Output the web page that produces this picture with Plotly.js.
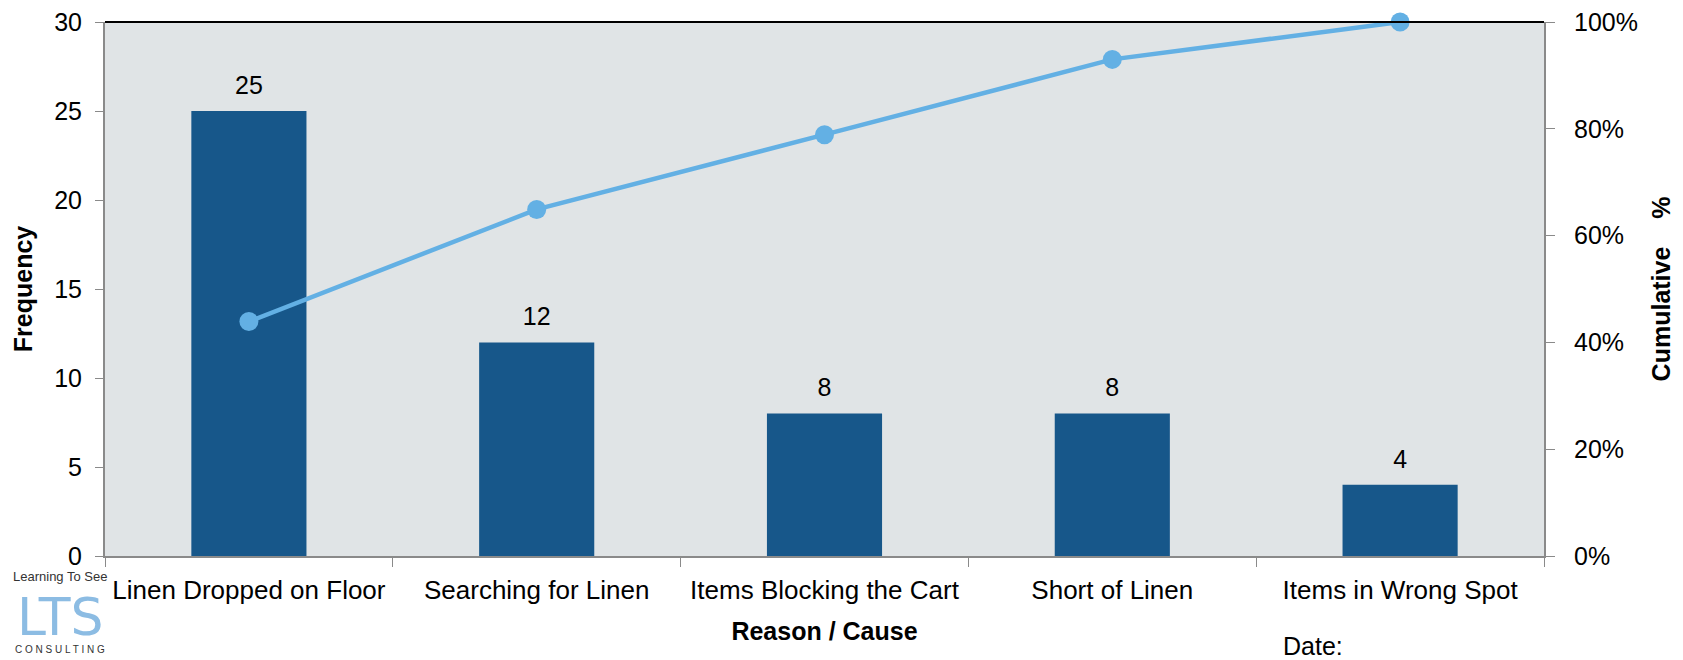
<!DOCTYPE html>
<html><head><meta charset="utf-8">
<script src="https://cdn.plot.ly/plotly-3.0.1.min.js"></script>
<style>html,body{margin:0;padding:0;background:#fff}#chart{width:1683px;height:660px}</style>
</head><body><div id="chart"></div>
<script>
const categories = ["Linen Dropped on Floor", "Searching for Linen", "Items Blocking the Cart", "Short of Linen", "Items in Wrong Spot"];
const frequency = [25, 12, 8, 8, 4];
const cumulativePct = [0.439, 0.649, 0.789, 0.930, 1.0];
const leftTicks = [0, 5, 10, 15, 20, 25, 30];
const rightTicks = [0, 0.2, 0.4, 0.6, 0.8, 1.0];

const font = "Liberation Sans, Arial, sans-serif";
const traces = [
  {type: "bar", x: categories, y: frequency, marker: {color: "#17578a"}, hoverinfo: "skip"},
  {type: "scatter", mode: "markers+text", x: categories, y: frequency,
   marker: {size: 16, color: "rgba(0,0,0,0)"}, text: frequency.map(String), textposition: "top center",
   textfont: {size: 25, color: "#000", family: font}, cliponaxis: false, hoverinfo: "skip"},
  {type: "scatter", mode: "lines+markers", x: categories, y: cumulativePct, yaxis: "y2",
   line: {color: "#63b0e4", width: 4.5}, marker: {color: "#63b0e4", size: 19}, cliponaxis: false}
];
const layout = {
  width: 1683, height: 660, showlegend: false,
  margin: {l: 105, r: 139, t: 22, b: 104},
  paper_bgcolor: "#fff", plot_bgcolor: "#e0e4e6",
  font: {family: font, size: 26, color: "#000"},
  bargap: 0.6,
  xaxis: {type: "category", tickson: "boundaries", ticks: "outside", ticklen: 9, tickcolor: "#8a8a8a",
          showline: true, linecolor: "#8a8a8a", linewidth: 2, showgrid: false, ticklabelstandoff: 10,
          tickfont: {size: 26},
          title: {text: "<b>Reason / Cause</b>", font: {size: 25}, standoff: 18}},
  yaxis: {range: [0, 30], tickvals: leftTicks, ticks: "outside", ticklen: 8, tickcolor: "#8a8a8a",
          showline: true, linecolor: "#8a8a8a", linewidth: 2, showgrid: false, zeroline: false,
          tickfont: {size: 25}, ticklabelstandoff: 8,
          title: {text: "<b>Frequency</b>", font: {size: 25}, standoff: 14}},
  yaxis2: {overlaying: "y", side: "right", range: [0, 1], tickvals: rightTicks, tickformat: ".0%",
           ticks: "outside", ticklen: 9, tickcolor: "#8a8a8a", showline: true, linecolor: "#8a8a8a",
           linewidth: 2, showgrid: false, zeroline: false, tickfont: {size: 25}, ticklabelstandoff: 14,
           title: {text: "<b>Cumulative    %</b>", font: {size: 25}, standoff: 16}},
  shapes: [{type: "line", xref: "paper", yref: "paper", x0: 0, x1: 1, y0: 1, y1: 1,
            line: {color: "#000", width: 2}}],
  annotations: [
    {xref: "paper", yref: "paper", x: 0.817, y: -0.138, xanchor: "left", yanchor: "top", showarrow: false,
     text: "Date:", font: {size: 25}},
    {xref: "paper", yref: "paper", x: -0.031, y: -0.022, xanchor: "center", yanchor: "top", showarrow: false,
     text: "Learning To See", font: {size: 13, color: "#333"}, borderpad: 0},
    {xref: "paper", yref: "paper", x: -0.031, y: -0.056, xanchor: "center", yanchor: "top", showarrow: false,
     text: "LTS", font: {size: 52, color: "#8cbce3", family: "DejaVu Sans"}, borderpad: 0},
    {xref: "paper", yref: "paper", x: -0.031, y: -0.163, xanchor: "center", yanchor: "top", showarrow: false,
     text: "C O N S U L T I N G", font: {size: 10, color: "#333"}, borderpad: 0}
  ]
};
Plotly.newPlot("chart", traces, layout, {displayModeBar: false, staticPlot: true});
</script></body></html>
